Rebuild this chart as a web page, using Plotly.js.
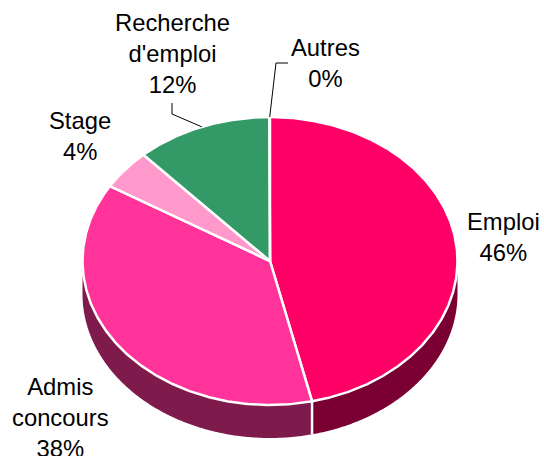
<!DOCTYPE html>
<html>
<head>
<meta charset="utf-8">
<script src="https://cdn.plot.ly/plotly-3.0.1.min.js"></script>
<style>html,body{margin:0;padding:0;background:#fff;overflow:hidden}</style>
</head>
<body>
<div id="chart" style="width:544px;height:456px"></div>
<script>
// Data
const categories = ["Emploi", "Admis<br>concours", "Stage", "Recherche<br>d'emploi", "Autres"];
const values = [46.4, 37.3, 4.5, 11.75, 0.05];
const shownPercents = ["46%", "38%", "4%", "12%", "0%"];
const topColors = ["#ff0066", "#ff3399", "#ff99cc", "#339966", "#ffffff"];
const wallColors = ["#7a0033", "#7f1a4d", "#7f4c66", "#1a4d33", "#7f7f7f"];

// Layout of the drawing, in plot units (axes map 1:1 to the page)
const centerX = 270, centerY = 261, radiusX = 187.5, radiusY = 144, depth = 33;
const labelX = [503, 60, 80, 172, 325];
const labelY = [237, 417.5, 136, 53, 63];
const leaderElbows = {3: [[172, 103], [172, 114]], 4: [[288, 63], [276, 63]]};

const total = values.reduce((a, b) => a + b, 0);
const px = a => centerX + radiusX * Math.sin(a);
const py = (a, dz) => centerY - radiusY * Math.cos(a) + (dz || 0);
function arc(a0, a1, dz) {
  const n = Math.max(2, Math.ceil((a1 - a0) * 120));
  const xs = [], ys = [];
  for (let i = 0; i <= n; i++) {
    const a = a0 + (a1 - a0) * i / n;
    xs.push(px(a)); ys.push(py(a, dz));
  }
  return [xs, ys];
}

const starts = [];
let running = 0;
values.forEach(v => { starts.push(running / total * 2 * Math.PI); running += v; });
const ends = starts.map((s, i) => s + values[i] / total * 2 * Math.PI);

const traces = [];
// Side walls: only the front half of the disc is visible
values.forEach((v, i) => {
  const a0 = Math.max(starts[i], Math.PI / 2), a1 = Math.min(ends[i], 3 * Math.PI / 2);
  if (a1 <= a0) return;
  const [tx, ty] = arc(a0, a1, 0);
  const [bx, by] = arc(a0, a1, depth);
  traces.push({
    type: "scatter", mode: "none", fill: "toself", fillcolor: wallColors[i],
    x: tx.concat(bx.reverse()), y: ty.concat(by.reverse()), hoverinfo: "skip"
  });
});
// White dividers on the wall at slice edges
ends.forEach((e) => {
  if (e > Math.PI / 2 && e < 3 * Math.PI / 2) {
    traces.push({
      type: "scatter", mode: "lines", line: {color: "#ffffff", width: 2.5},
      x: [px(e), px(e)], y: [py(e), py(e, depth)], hoverinfo: "skip"
    });
  }
});
// Top face slices
values.forEach((v, i) => {
  const [ax, ay] = arc(starts[i], ends[i], 0);
  traces.push({
    type: "scatter", mode: "lines", fill: "toself", fillcolor: topColors[i],
    line: {color: "#ffffff", width: 2.5},
    x: [centerX].concat(ax, [centerX]), y: [centerY].concat(ay, [centerY]),
    name: categories[i].replace("<br>", " "), text: shownPercents[i], hoverinfo: "name+text"
  });
});
// Leader lines end on the middle of their slice
Object.keys(leaderElbows).forEach(k => {
  const i = +k, m = (starts[i] + ends[i]) / 2;
  const pts = leaderElbows[k].concat([[px(m), py(m)]]);
  traces.push({
    type: "scatter", mode: "lines", line: {color: "#000000", width: 1},
    x: pts.map(p => p[0]), y: pts.map(p => p[1]), hoverinfo: "skip"
  });
});

const annotations = categories.map((c, i) => ({
  x: labelX[i], y: labelY[i], xref: "x", yref: "y", showarrow: false,
  text: c + "<br>" + shownPercents[i], align: "center",
  xanchor: "center", yanchor: "middle",
  font: {family: "Liberation Sans, Arial, sans-serif", size: 23.8, color: "#000000"}
}));

Plotly.newPlot("chart", traces, {
  width: 544, height: 456, showlegend: false,
  margin: {l: 0, r: 0, t: 0, b: 0},
  paper_bgcolor: "#ffffff", plot_bgcolor: "#ffffff",
  xaxis: {range: [0, 544], visible: false, fixedrange: true},
  yaxis: {range: [456, 0], visible: false, fixedrange: true},
  annotations
}, {displayModeBar: false});
</script>
</body>
</html>
